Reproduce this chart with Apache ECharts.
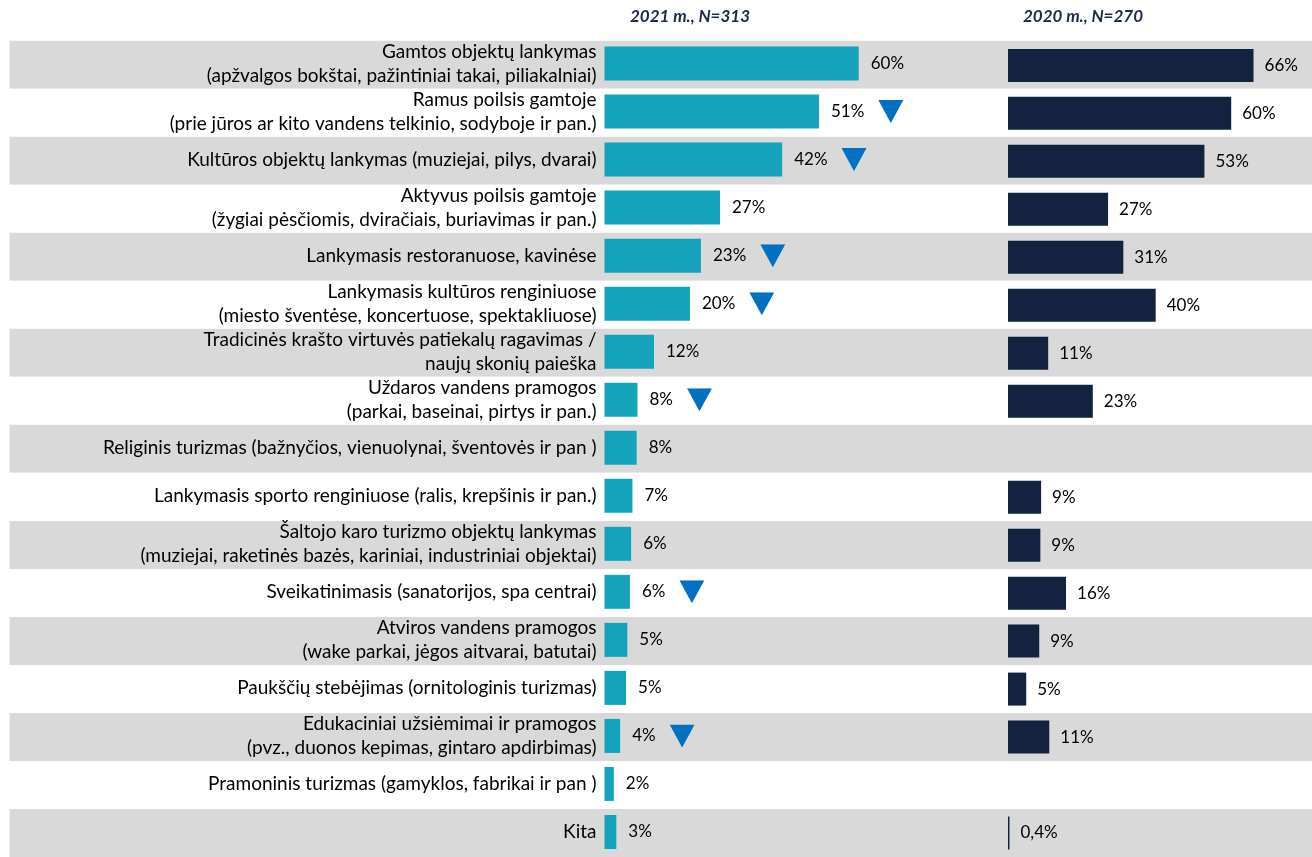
<!DOCTYPE html>
<html>
<head>
<meta charset="utf-8">
<script src="https://cdn.jsdelivr.net/npm/echarts@6/dist/echarts.min.js"></script>
<style>
  html, body { margin: 0; padding: 0; background: #fff; }
  #chart { width: 1312px; height: 857px; }
</style>
</head>
<body>
<div id="chart"></div>
<script>
// kategorijos (iš viršaus į apačią)
const categories = [
  'Gamtos objektų lankymas\n(apžvalgos bokštai, pažintiniai takai, piliakalniai)',
  'Ramus poilsis gamtoje\n(prie jūros ar kito vandens telkinio, sodyboje ir pan.)',
  'Kultūros objektų lankymas (muziejai, pilys, dvarai)',
  'Aktyvus poilsis gamtoje\n(žygiai pėsčiomis, dviračiais, buriavimas ir pan.)',
  'Lankymasis restoranuose, kavinėse',
  'Lankymasis kultūros renginiuose\n(miesto šventėse, koncertuose, spektakliuose)',
  'Tradicinės krašto virtuvės patiekalų ragavimas /\nnaujų skonių paieška',
  'Uždaros vandens pramogos\n(parkai, baseinai, pirtys ir pan.)',
  'Religinis turizmas (bažnyčios, vienuolynai, šventovės ir pan )',
  'Lankymasis sporto renginiuose (ralis, krepšinis ir pan.)',
  'Šaltojo karo turizmo objektų lankymas\n(muziejai, raketinės bazės, kariniai, industriniai objektai)',
  'Sveikatinimasis (sanatorijos, spa centrai)',
  'Atviros vandens pramogos\n(wake parkai, jėgos aitvarai, batutai)',
  'Paukščių stebėjimas (ornitologinis turizmas)',
  'Edukaciniai užsiėmimai ir pramogos\n(pvz., duonos kepimas, gintaro apdirbimas)',
  'Pramoninis turizmas (gamyklos, fabrikai ir pan )',
  'Kita'
]

// 2021 m., N=313
const values2021 = [60.1, 50.7, 42.0, 27.3, 22.8, 20.2, 11.7, 7.8, 7.6, 6.6, 6.3, 6.0, 5.4, 5.1, 3.7, 2.2, 2.8]
const labels2021 = ['60%', '51%', '42%', '27%', '23%', '20%', '12%', '8%', '8%', '7%', '6%', '6%', '5%', '5%', '4%', '2%', '3%']
// statistiškai reikšmingas sumažėjimas
const down2021 = [false, true, true, false, true, true, false, true, false, false, false, true, false, false, true, false, false]

// 2020 m., N=270
const values2020 = [66, 60, 52.8, 26.9, 31, 39.7, 10.8, 22.8, null, 8.9, 8.7, 15.6, 8.4, 4.9, 11.1, null, 0.4]
const labels2020 = ['66%', '60%', '53%', '27%', '31%', '40%', '11%', '23%', '', '9%', '9%', '16%', '9%', '5%', '11%', '', '0,4%']

const FONT = 'Lato, "Open Sans", sans-serif'

// trikampis žymeklis
const triImg = 'data:image/svg+xml;charset=utf-8,' + encodeURIComponent(
  '<svg xmlns="http://www.w3.org/2000/svg" width="25" height="23"><polygon points="0,0 25,0 12.5,23" fill="#0070C0"/></svg>'
)

let myChart = echarts.init(document.getElementById('chart'))

const options = {
  animation: false,
  graphic: [
    {
      type: 'text', x: 690, y: 17,
      style: { text: '2021 m., N=313', textAlign: 'center', textVerticalAlign: 'middle',
        font: 'italic bold 17px ' + FONT, fill: '#1b2a47' }
    },
    {
      type: 'text', x: 1083, y: 17,
      style: { text: '2020 m., N=270', textAlign: 'center', textVerticalAlign: 'middle',
        font: 'italic bold 17px ' + FONT, fill: '#1b2a47' }
    }
  ],
  grid: [
    { left: 604.5, top: 39.5, width: 338.4, height: 816.5 },
    { left: 1008, top: 41.4, width: 297.6, height: 820 },
    // fono juostos
    { left: 9.5, right: 0, top: 40.7, height: 819.5 }
  ],
  xAxis: [
    { gridIndex: 0, type: 'value', min: 0, max: 80, show: false },
    { gridIndex: 1, type: 'value', min: 0, max: 80, show: false },
    { gridIndex: 2, type: 'value', min: 0, max: 1, show: false }
  ],
  yAxis: [
    {
      gridIndex: 0, type: 'category', inverse: true, data: categories,
      axisLine: { show: false }, axisTick: { show: false },
      axisLabel: { margin: 8, align: 'right', fontFamily: FONT, fontSize: 19, lineHeight: 24, color: '#000' }
    },
    {
      gridIndex: 1, type: 'category', inverse: true, data: categories,
      axisLine: { show: false }, axisTick: { show: false }, axisLabel: { show: false }
    },
    {
      gridIndex: 2, type: 'category', inverse: true, data: categories,
      axisLine: { show: false }, axisTick: { show: false }, axisLabel: { show: false },
      splitArea: { show: true, areaStyle: { color: ['#d9d9d9', '#ffffff'] } }
    }
  ],
  series: [
    {
      name: '2021 m., N=313',
      type: 'bar', xAxisIndex: 0, yAxisIndex: 0,
      data: values2021, barWidth: 34,
      itemStyle: { color: '#15a2bb' },
      label: {
        show: true, position: 'right', distance: 12,
        formatter: (p) => '{v|' + labels2021[p.dataIndex] + '}' + (down2021[p.dataIndex] ? '{g| }{t| }' : ''),
        rich: {
          v: { fontFamily: FONT, fontSize: 17, color: '#000', verticalAlign: 'middle' },
          g: { width: 14, verticalAlign: 'middle' },
          t: { width: 25, height: 23, verticalAlign: 'middle', backgroundColor: { image: triImg } }
        }
      }
    },
    {
      name: '2020 m., N=270',
      type: 'bar', xAxisIndex: 1, yAxisIndex: 1,
      data: values2020, barWidth: 33,
      itemStyle: { color: '#12223f' },
      label: {
        show: true, position: 'right', distance: 11,
        fontFamily: FONT, fontSize: 17, color: '#000',
        formatter: (p) => labels2020[p.dataIndex]
      }
    }
  ]
}

myChart.setOption(options)
</script>
</body>
</html>
